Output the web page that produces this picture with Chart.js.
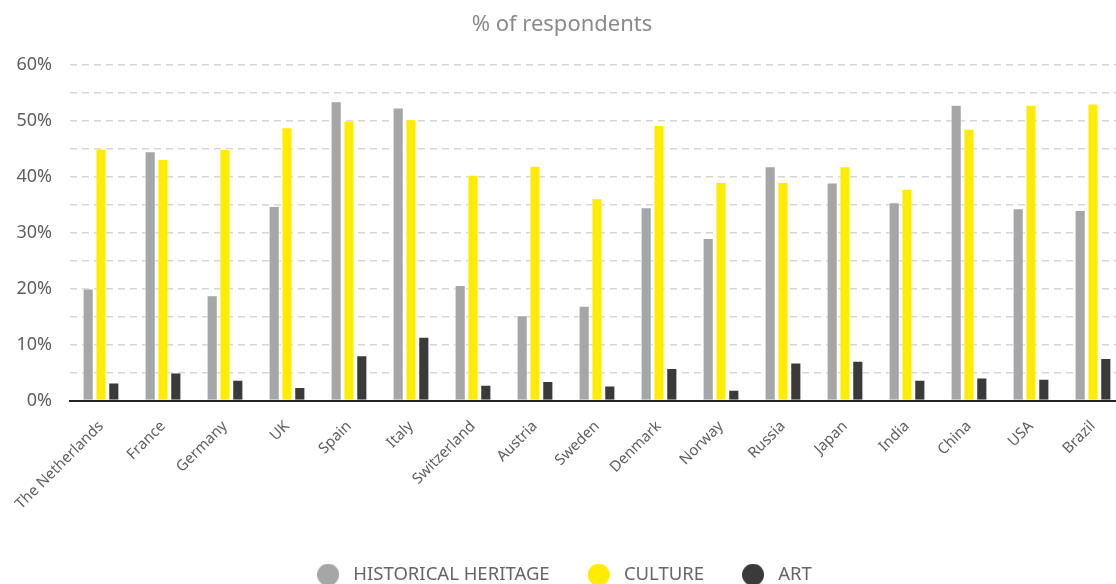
<script src="https://cdn.jsdelivr.net/npm/chart.js@4.4.0/dist/chart.umd.min.js"></script>
<style>
  html, body { margin: 0; padding: 0; background: #fff; overflow: hidden; }
  #wrap { width: 1124px; height: 594px; }
</style>
<div id="wrap"><canvas id="chart"></canvas></div>
<script>
const countries = ['The Netherlands', 'France', 'Germany', 'UK', 'Spain', 'Italy', 'Switzerland', 'Austria',
  'Sweden', 'Denmark', 'Norway', 'Russia', 'Japan', 'India', 'China', 'USA', 'Brazil']
const heritage = [20.0, 44.5, 18.8, 34.7, 53.4, 52.3, 20.6, 15.2, 16.9, 34.5, 29.0, 41.8, 38.9, 35.4, 52.8, 34.3, 34.0]
const culture = [45.0, 43.1, 44.9, 48.8, 50.0, 50.2, 40.3, 41.9, 36.1, 49.2, 39.0, 39.0, 41.8, 37.8, 48.5, 52.8, 53.0]
const art = [3.2, 5.0, 3.7, 2.4, 8.1, 11.4, 2.8, 3.5, 2.7, 5.8, 1.9, 6.8, 7.1, 3.7, 4.1, 3.9, 7.6]

const FONT = '"Noto Sans", "Open Sans", sans-serif'
const textColor = '#5f5f5f'
const colors = ['#a5a6a8', '#ffec00', '#3a3a3a']

// legend dots as small images so they can be bigger than the text
function dot(color) {
  const c = document.createElement('canvas')
  c.width = 22
  c.height = 22
  const ctx = c.getContext('2d')
  ctx.fillStyle = color
  ctx.beginPath()
  ctx.arc(11, 11, 11, 0, Math.PI * 2)
  ctx.fill()
  return c
}
const dots = colors.map(dot)

function series(label, data, color) {
  return {
    label: label,
    data: data,
    backgroundColor: color,
    borderColor: 'rgba(255,255,255,0.6)',
    borderWidth: 1,
    barPercentage: 0.87,
    categoryPercentage: 0.62
  }
}

new Chart(document.getElementById('chart'), {
  type: 'bar',
  data: {
    labels: countries,
    datasets: [
      series('HISTORICAL HERITAGE', heritage, colors[0]),
      series('CULTURE', culture, colors[1]),
      series('ART', art, colors[2])
    ]
  },
  options: {
    responsive: true,
    maintainAspectRatio: false,
    animation: false,
    layout: { padding: { top: 10, left: 0, right: 0, bottom: 0 } },
    plugins: {
      tooltip: { enabled: false },
      title: {
        display: true,
        text: '% of respondents',
        color: '#8a8a8a',
        font: { family: FONT, size: 22, weight: 'normal' },
        padding: { top: 2, bottom: 26 }
      },
      legend: {
        position: 'bottom',
        labels: {
          usePointStyle: true,
          pointStyleWidth: 32,
          boxHeight: 18,
          padding: 33,
          color: '#666',
          font: { family: FONT, size: 18.5 },
          generateLabels: chart => {
            const items = Chart.defaults.plugins.legend.labels.generateLabels(chart)
            items.forEach((it, i) => { it.pointStyle = dots[i] })
            return items
          }
        }
      }
    },
    scales: {
      x: {
        grid: { display: false },
        border: { display: true, color: '#222', width: 2 },
        ticks: {
          color: textColor,
          font: { family: FONT, size: 15 },
          maxRotation: 45,
          minRotation: 45,
          padding: 9
        },
        afterFit: s => { s.height = 132 }
      },
      y: {
        min: 0,
        max: 60,
        grid: {
          color: '#d6d6d6',
          lineWidth: 1.5,
          drawTicks: false
        },
        border: { display: false, dash: [7, 5] },
        ticks: {
          stepSize: 5,
          padding: 18,
          color: textColor,
          font: { family: FONT, size: 18 },
          callback: v => (v % 10 === 0 ? v + '%' : '')
        },
        afterFit: s => { s.width = 70 }
      }
    }
  }
})
</script>
